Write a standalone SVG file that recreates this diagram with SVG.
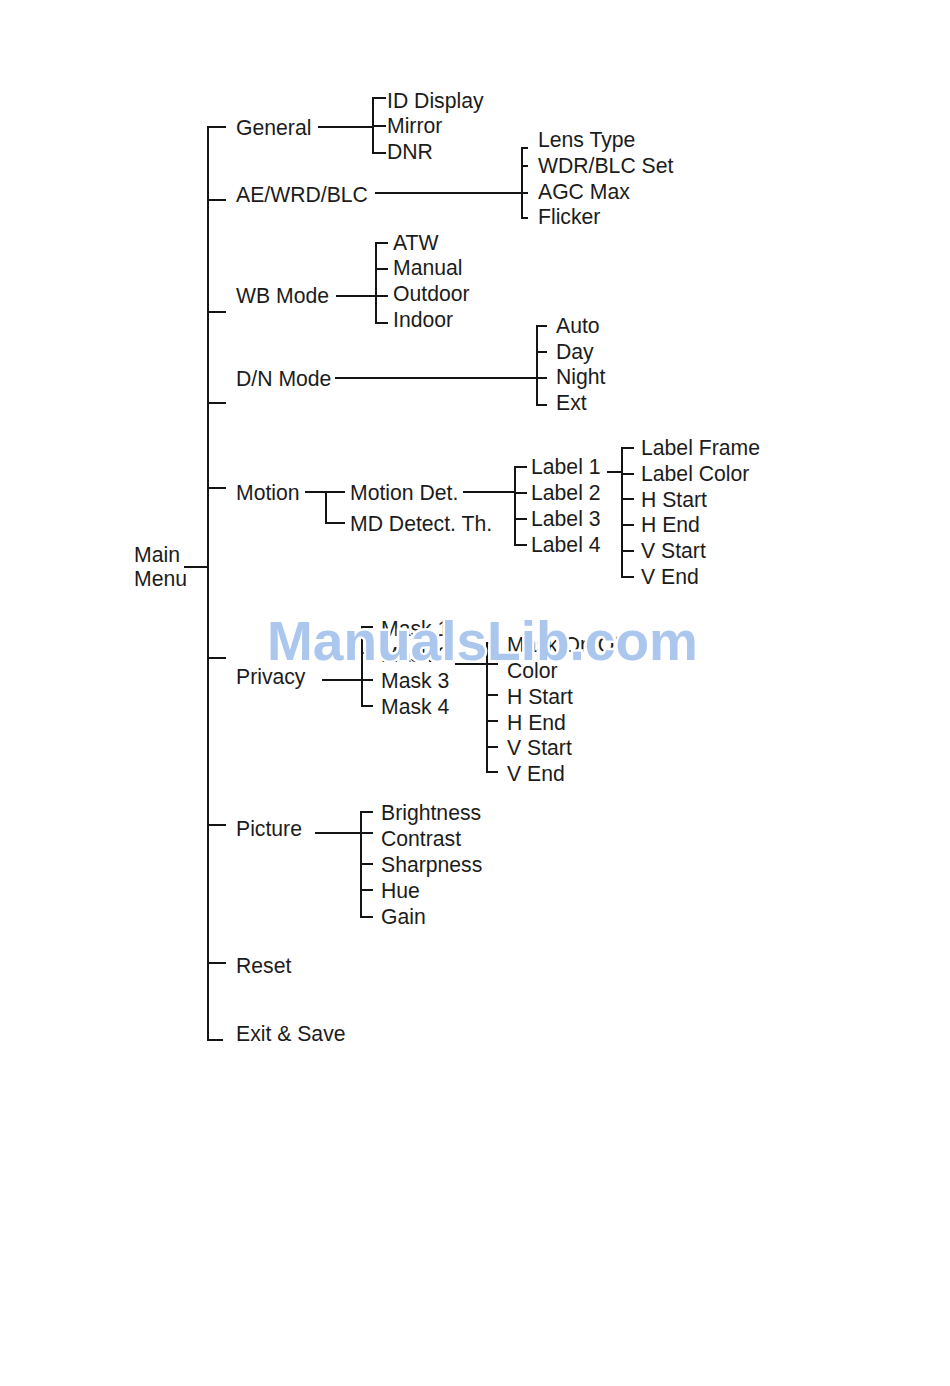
<svg xmlns="http://www.w3.org/2000/svg" width="950" height="1386" viewBox="0 0 950 1386">
<style>
text{font-family:"Liberation Sans",Arial,sans-serif;font-size:21.2px;fill:#1c1c1c}
.c{fill:none;stroke:#141414;stroke-width:2}
.wm{font-family:"Liberation Sans",Arial,sans-serif;font-weight:bold;font-size:55px;fill:#abc7ee;stroke:#fff;stroke-width:5;paint-order:stroke}
</style>
<rect width="950" height="1386" fill="#fff"/>
<g id="connectors" class="c">
<path d="M184,567H208M226,127H208V1040H223M208,200H226M208,312H226M208,403H226M208,488H226M208,658H226M208,825H226M208,963H226"/>
<path d="M318,127H373M386,98H373V153H386M373,126H386"/>
<path d="M375,193H522M528,148H522V218H528M522,166H528M522,193H528"/>
<path d="M336,296H376M388,243H376V323H388M376,269H388M376,296H388"/>
<path d="M335,378H537M547,326H537V405H547M537,352H547M537,378H547"/>
<path d="M305,492H345M326,492V523H345M463,492H515M527,467H515V545H527M515,493H527M515,519H527"/>
<path d="M607,472H622M634,448H622V577H634M622,474H634M622,499H634M622,525H634M622,551H634"/>
<path d="M322,680H362M373,627H362V706H373M362,653H373M362,680H373"/>
<path d="M455,664H487M498,643H487V772H498M487,664H498M487,695H498M487,721H498M487,747H498"/>
<path d="M315,833H361M373,812H361V917H373M361,833H373M361,864H373M361,890H373"/>
</g>
<g id="main"><text x="134" y="562">Main</text><text x="134" y="586">Menu</text></g>
<g id="general"><text x="236" y="135">General</text></g>
<g id="general-items"><text x="387" y="108">ID Display</text><text x="387" y="133">Mirror</text><text x="387" y="159">DNR</text></g>
<g id="ae"><text x="236" y="202">AE/WRD/BLC</text></g>
<g id="ae-items"><text x="538" y="147">Lens Type</text><text x="538" y="173">WDR/BLC Set</text><text x="538" y="199">AGC Max</text><text x="538" y="224">Flicker</text></g>
<g id="wb"><text x="236" y="303">WB Mode</text></g>
<g id="wb-items"><text x="393" y="250">ATW</text><text x="393" y="275">Manual</text><text x="393" y="301">Outdoor</text><text x="393" y="327">Indoor</text></g>
<g id="dn"><text x="236" y="386">D/N Mode</text></g>
<g id="dn-items"><text x="556" y="333">Auto</text><text x="556" y="359">Day</text><text x="556" y="384">Night</text><text x="556" y="410">Ext</text></g>
<g id="motion"><text x="236" y="500">Motion</text></g>
<g id="motion-det"><text x="350" y="500">Motion Det.</text></g>
<g id="md-th"><text x="350" y="531">MD Detect. Th.</text></g>
<g id="labels"><text x="531" y="474">Label 1</text><text x="531" y="500">Label 2</text><text x="531" y="526">Label 3</text><text x="531" y="552">Label 4</text></g>
<g id="label-items"><text x="641" y="455">Label Frame</text><text x="641" y="481">Label Color</text><text x="641" y="507">H Start</text><text x="641" y="532">H End</text><text x="641" y="558">V Start</text><text x="641" y="584">V End</text></g>
<g id="privacy"><text x="236" y="684">Privacy</text></g>
<g id="masks"><text x="381" y="636">Mask 1</text><text x="381" y="662">Mask 2</text><text x="381" y="688">Mask 3</text><text x="381" y="714">Mask 4</text></g>
<g id="mask-items"><text x="507" y="652">Mask On/Off</text><text x="507" y="678">Color</text><text x="507" y="704">H Start</text><text x="507" y="730">H End</text><text x="507" y="755">V Start</text><text x="507" y="781">V End</text></g>
<g id="picture"><text x="236" y="836">Picture</text></g>
<g id="picture-items"><text x="381" y="820">Brightness</text><text x="381" y="846">Contrast</text><text x="381" y="872">Sharpness</text><text x="381" y="898">Hue</text><text x="381" y="924">Gain</text></g>
<g id="reset"><text x="236" y="973">Reset</text></g>
<g id="exit"><text x="236" y="1041">Exit &amp; Save</text></g>
<text class="wm" x="267" y="660">ManualsLib.com</text>
</svg>
